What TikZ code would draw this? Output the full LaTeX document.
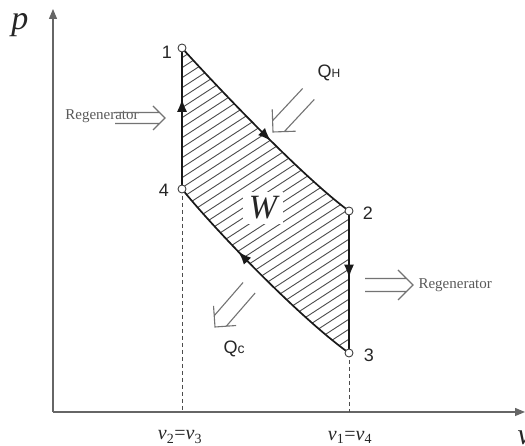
\documentclass[tikz,border=0pt]{standalone}
\usepackage{fontspec}
\setmainfont{Liberation Serif}
\setsansfont{Liberation Sans}
\usetikzlibrary{arrows.meta,decorations.markings}
\newcommand{\dblarr}[5]{%
  \begin{scope}[shift={#1},rotate=#2]
    \draw[hollow] (-#3,#4)--(-#4,#4) (-#3,-#4)--(-#4,-#4) (-#5,#5)--(0,0)--(-#5,-#5);
  \end{scope}}
\begin{document}
\begin{tikzpicture}[x=1pt,y=1pt,
  axis/.style={draw=black!60, line width=1.2pt, -{Triangle[length=10pt,width=8pt]}},
  cyc/.style={draw=black!90, line width=1.7pt},
  midarrow/.style={postaction={decorate}, decoration={markings, mark=at position #1 with {\arrow{Latex[length=13pt,width=10pt]}}}},
  hatch/.style={draw=black!70, line width=0.9pt},
  dashline/.style={draw=black!70, line width=1pt, dash pattern=on 4pt off 3pt},
  ptc/.style={circle, draw=black!75, fill=white, line width=0.9pt, inner sep=0pt, minimum size=8pt},
  hollow/.style={draw=black!55, line width=1.1pt, line join=miter},
  num/.style={font=\sffamily\fontsize{18}{18}\selectfont, text=black!85},
  regen/.style={font=\fontsize{15}{15}\selectfont, text=black!65},
  vlab/.style={font=\fontsize{20}{20}\selectfont, text=black!85},
]
\useasboundingbox (0,0) rectangle (525,446);
% coordinates
\coordinate (o) at (53,34);
\coordinate (ytip) at (53,437);
\coordinate (xtip) at (525,34);
\coordinate (p1) at (182,398);
\coordinate (p4) at (182,257);
\coordinate (p2) at (349,235);
\coordinate (p3) at (349,93);
% hatching
\begin{scope}
  \clip (p1) .. controls (210,367) and (300,271) .. (p2) -- (p3) .. controls (300,128) and (215,216) .. (p4) -- cycle;
  \foreach \c in {-150,-140,...,300} \draw[hatch] (170,{110.5+\c}) -- (360,{234+\c});
\end{scope}
\node[fill=white, inner xsep=6pt, inner ysep=5pt, font=\fontsize{34}{34}\selectfont\itshape, text=black!85] (w) at (263,238) {W};
% axes
\draw[axis] (o) -- (ytip);
\draw[axis] (o) -- (xtip);
% dashed guides
\draw[dashline] (p4) -- (p4 |- o);
\draw[dashline] (p3) -- (p3 |- o);
% cycle
\draw[cyc, midarrow=0.64] (p4) -- (p1);
\draw[cyc, midarrow=0.55] (p1) .. controls (210,367) and (300,271) .. (p2);
\draw[cyc, midarrow=0.47] (p2) -- (p3);
\draw[cyc, midarrow=0.64] (p3) .. controls (300,128) and (215,216) .. (p4);
% state points
\node[ptc] (n1) at (p1) {};
\node[ptc] (n2) at (p2) {};
\node[ptc] (n3) at (p3) {};
\node[ptc] (n4) at (p4) {};
\node[num] (l1) at (167,394) {1};
\node[num] (l4) at (164,256) {4};
\node[num] (l2) at (368,233) {2};
\node[num] (l3) at (369,91) {3};
% axis labels
\node[font=\fontsize{34}{34}\selectfont\itshape, text=black!85] (pl) at (20,421) {p};
\node[vlab] (va) at (180,9) {\textit{v}\textsubscript{2}=\textit{v}\textsubscript{3}};
\node[vlab] (vb) at (350,9) {\textit{v}\textsubscript{1}=\textit{v}\textsubscript{4}};
\node[font=\fontsize{30}{30}\selectfont\itshape, text=black!85, anchor=west] (vl) at (514,8) {v};
% heat arrows
\dblarr{(273,314)}{227}{52}{8}{16}
\node[font=\sffamily\fontsize{18}{18}\selectfont, text=black!85] (qh) at (329,373) {Q{\fontsize{12}{12}\selectfont H}};
\dblarr{(215,119)}{229}{52}{8}{15}
\node[font=\sffamily\fontsize{18}{18}\selectfont, text=black!85] (qc) at (234,97) {Q{\fontsize{14}{14}\selectfont c}};
% regenerator arrows
\node[regen] (rg1) at (102,330) {Regenerator};
\dblarr{(165,328)}{0}{50}{5.5}{12}
\dblarr{(413,161)}{0}{48}{6.5}{15}
\node[regen, anchor=west] (rg2) at (415,161) {Regenerator};
\end{tikzpicture}
\end{document}
